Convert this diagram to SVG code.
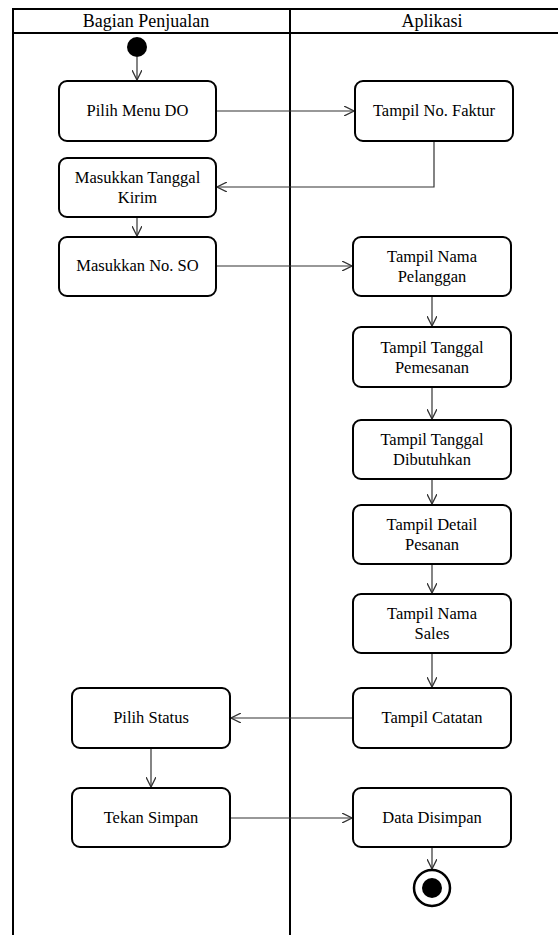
<svg xmlns="http://www.w3.org/2000/svg" width="558" height="935" viewBox="0 0 558 935">
<defs>
<style>
.lane{fill:none;stroke:#000;stroke-width:2}
.box{fill:#fff;stroke:#000;stroke-width:2}
.lbl{font-family:'Liberation Serif','Times New Roman',serif;font-size:16.5px;fill:#000;text-anchor:middle}
.h{font-family:'Liberation Serif','Times New Roman',serif;font-size:18px;fill:#000;text-anchor:middle}
.c{fill:none;stroke:#333;stroke-width:1.2}
</style>
<marker id="arr" viewBox="0 0 10 10" refX="10" refY="5" markerWidth="10" markerHeight="10" markerUnits="userSpaceOnUse" orient="auto">
<path d="M0,0 L10,5 L0,10" fill="none" stroke="#333" stroke-width="1.3"/>
</marker>
</defs>
<rect width="558" height="935" fill="#fff"/>
<g id="swimlanes">
<rect class="lane" x="13" y="9" width="560" height="940"/>
<line class="lane" x1="13" y1="33" x2="560" y2="33"/>
<line class="lane" x1="290" y1="9" x2="290" y2="940"/>
<text class="h" x="146" y="27">Bagian Penjualan</text>
<text class="h" x="432" y="27">Aplikasi</text>
</g>
<g id="connectors">
<path class="c" d="M137,57 V80" marker-end="url(#arr)"/>
<path class="c" d="M216,111 H354" marker-end="url(#arr)"/>
<path class="c" d="M434,141 V187 H217" marker-end="url(#arr)"/>
<path class="c" d="M137,217 V236" marker-end="url(#arr)"/>
<path class="c" d="M216,266 H352" marker-end="url(#arr)"/>
<path class="c" d="M432,296 V326" marker-end="url(#arr)"/>
<path class="c" d="M432,387 V419" marker-end="url(#arr)"/>
<path class="c" d="M432,479 V504" marker-end="url(#arr)"/>
<path class="c" d="M432,564 V593" marker-end="url(#arr)"/>
<path class="c" d="M432,653 V687" marker-end="url(#arr)"/>
<path class="c" d="M353,718 H231" marker-end="url(#arr)"/>
<path class="c" d="M151,748 V787" marker-end="url(#arr)"/>
<path class="c" d="M230,818 H352" marker-end="url(#arr)"/>
<path class="c" d="M432,847 V869" marker-end="url(#arr)"/>
</g>
<g id="start"><circle cx="137" cy="47" r="10" fill="#000"/></g>
<g id="pilih-menu-do"><rect class="box" x="59" y="81" width="157" height="60" rx="8"/><g class="txt"><text class="lbl" x="137.5" y="116">Pilih Menu DO</text></g></g>
<g id="tampil-no-faktur"><rect class="box" x="355" y="81" width="158" height="60" rx="8"/><g class="txt"><text class="lbl" x="434" y="116">Tampil No. Faktur</text></g></g>
<g id="masukkan-tanggal-kirim"><rect class="box" x="59" y="158" width="157" height="59" rx="8"/><g class="txt"><text class="lbl" x="137.5" y="183">Masukkan Tanggal</text><text class="lbl" x="137.5" y="203">Kirim</text></g></g>
<g id="masukkan-no-so"><rect class="box" x="59" y="237" width="157" height="59" rx="8"/><g class="txt"><text class="lbl" x="137.5" y="271">Masukkan No. SO</text></g></g>
<g id="tampil-nama-pelanggan"><rect class="box" x="353" y="237" width="158" height="59" rx="8"/><g class="txt"><text class="lbl" x="432" y="262">Tampil Nama</text><text class="lbl" x="432" y="282">Pelanggan</text></g></g>
<g id="tampil-tanggal-pemesanan"><rect class="box" x="353" y="327" width="158" height="60" rx="8"/><g class="txt"><text class="lbl" x="432" y="353">Tampil Tanggal</text><text class="lbl" x="432" y="373">Pemesanan</text></g></g>
<g id="tampil-tanggal-dibutuhkan"><rect class="box" x="353" y="420" width="158" height="59" rx="8"/><g class="txt"><text class="lbl" x="432" y="445">Tampil Tanggal</text><text class="lbl" x="432" y="465">Dibutuhkan</text></g></g>
<g id="tampil-detail-pesanan"><rect class="box" x="353" y="505" width="158" height="59" rx="8"/><g class="txt"><text class="lbl" x="432" y="530">Tampil Detail</text><text class="lbl" x="432" y="550">Pesanan</text></g></g>
<g id="tampil-nama-sales"><rect class="box" x="353" y="594" width="158" height="59" rx="8"/><g class="txt"><text class="lbl" x="432" y="619">Tampil Nama</text><text class="lbl" x="432" y="639">Sales</text></g></g>
<g id="tampil-catatan"><rect class="box" x="353" y="688" width="158" height="60" rx="8"/><g class="txt"><text class="lbl" x="432" y="723">Tampil Catatan</text></g></g>
<g id="pilih-status"><rect class="box" x="72" y="688" width="158" height="60" rx="8"/><g class="txt"><text class="lbl" x="151" y="723">Pilih Status</text></g></g>
<g id="tekan-simpan"><rect class="box" x="72" y="788" width="158" height="59" rx="8"/><g class="txt"><text class="lbl" x="151" y="823">Tekan Simpan</text></g></g>
<g id="data-disimpan"><rect class="box" x="353" y="788" width="158" height="59" rx="8"/><g class="txt"><text class="lbl" x="432" y="823">Data Disimpan</text></g></g>
<g id="end"><circle cx="432" cy="888" r="18" fill="#fff" stroke="#000" stroke-width="2.5"/><circle cx="432" cy="888" r="10" fill="#000"/></g>
</svg>
